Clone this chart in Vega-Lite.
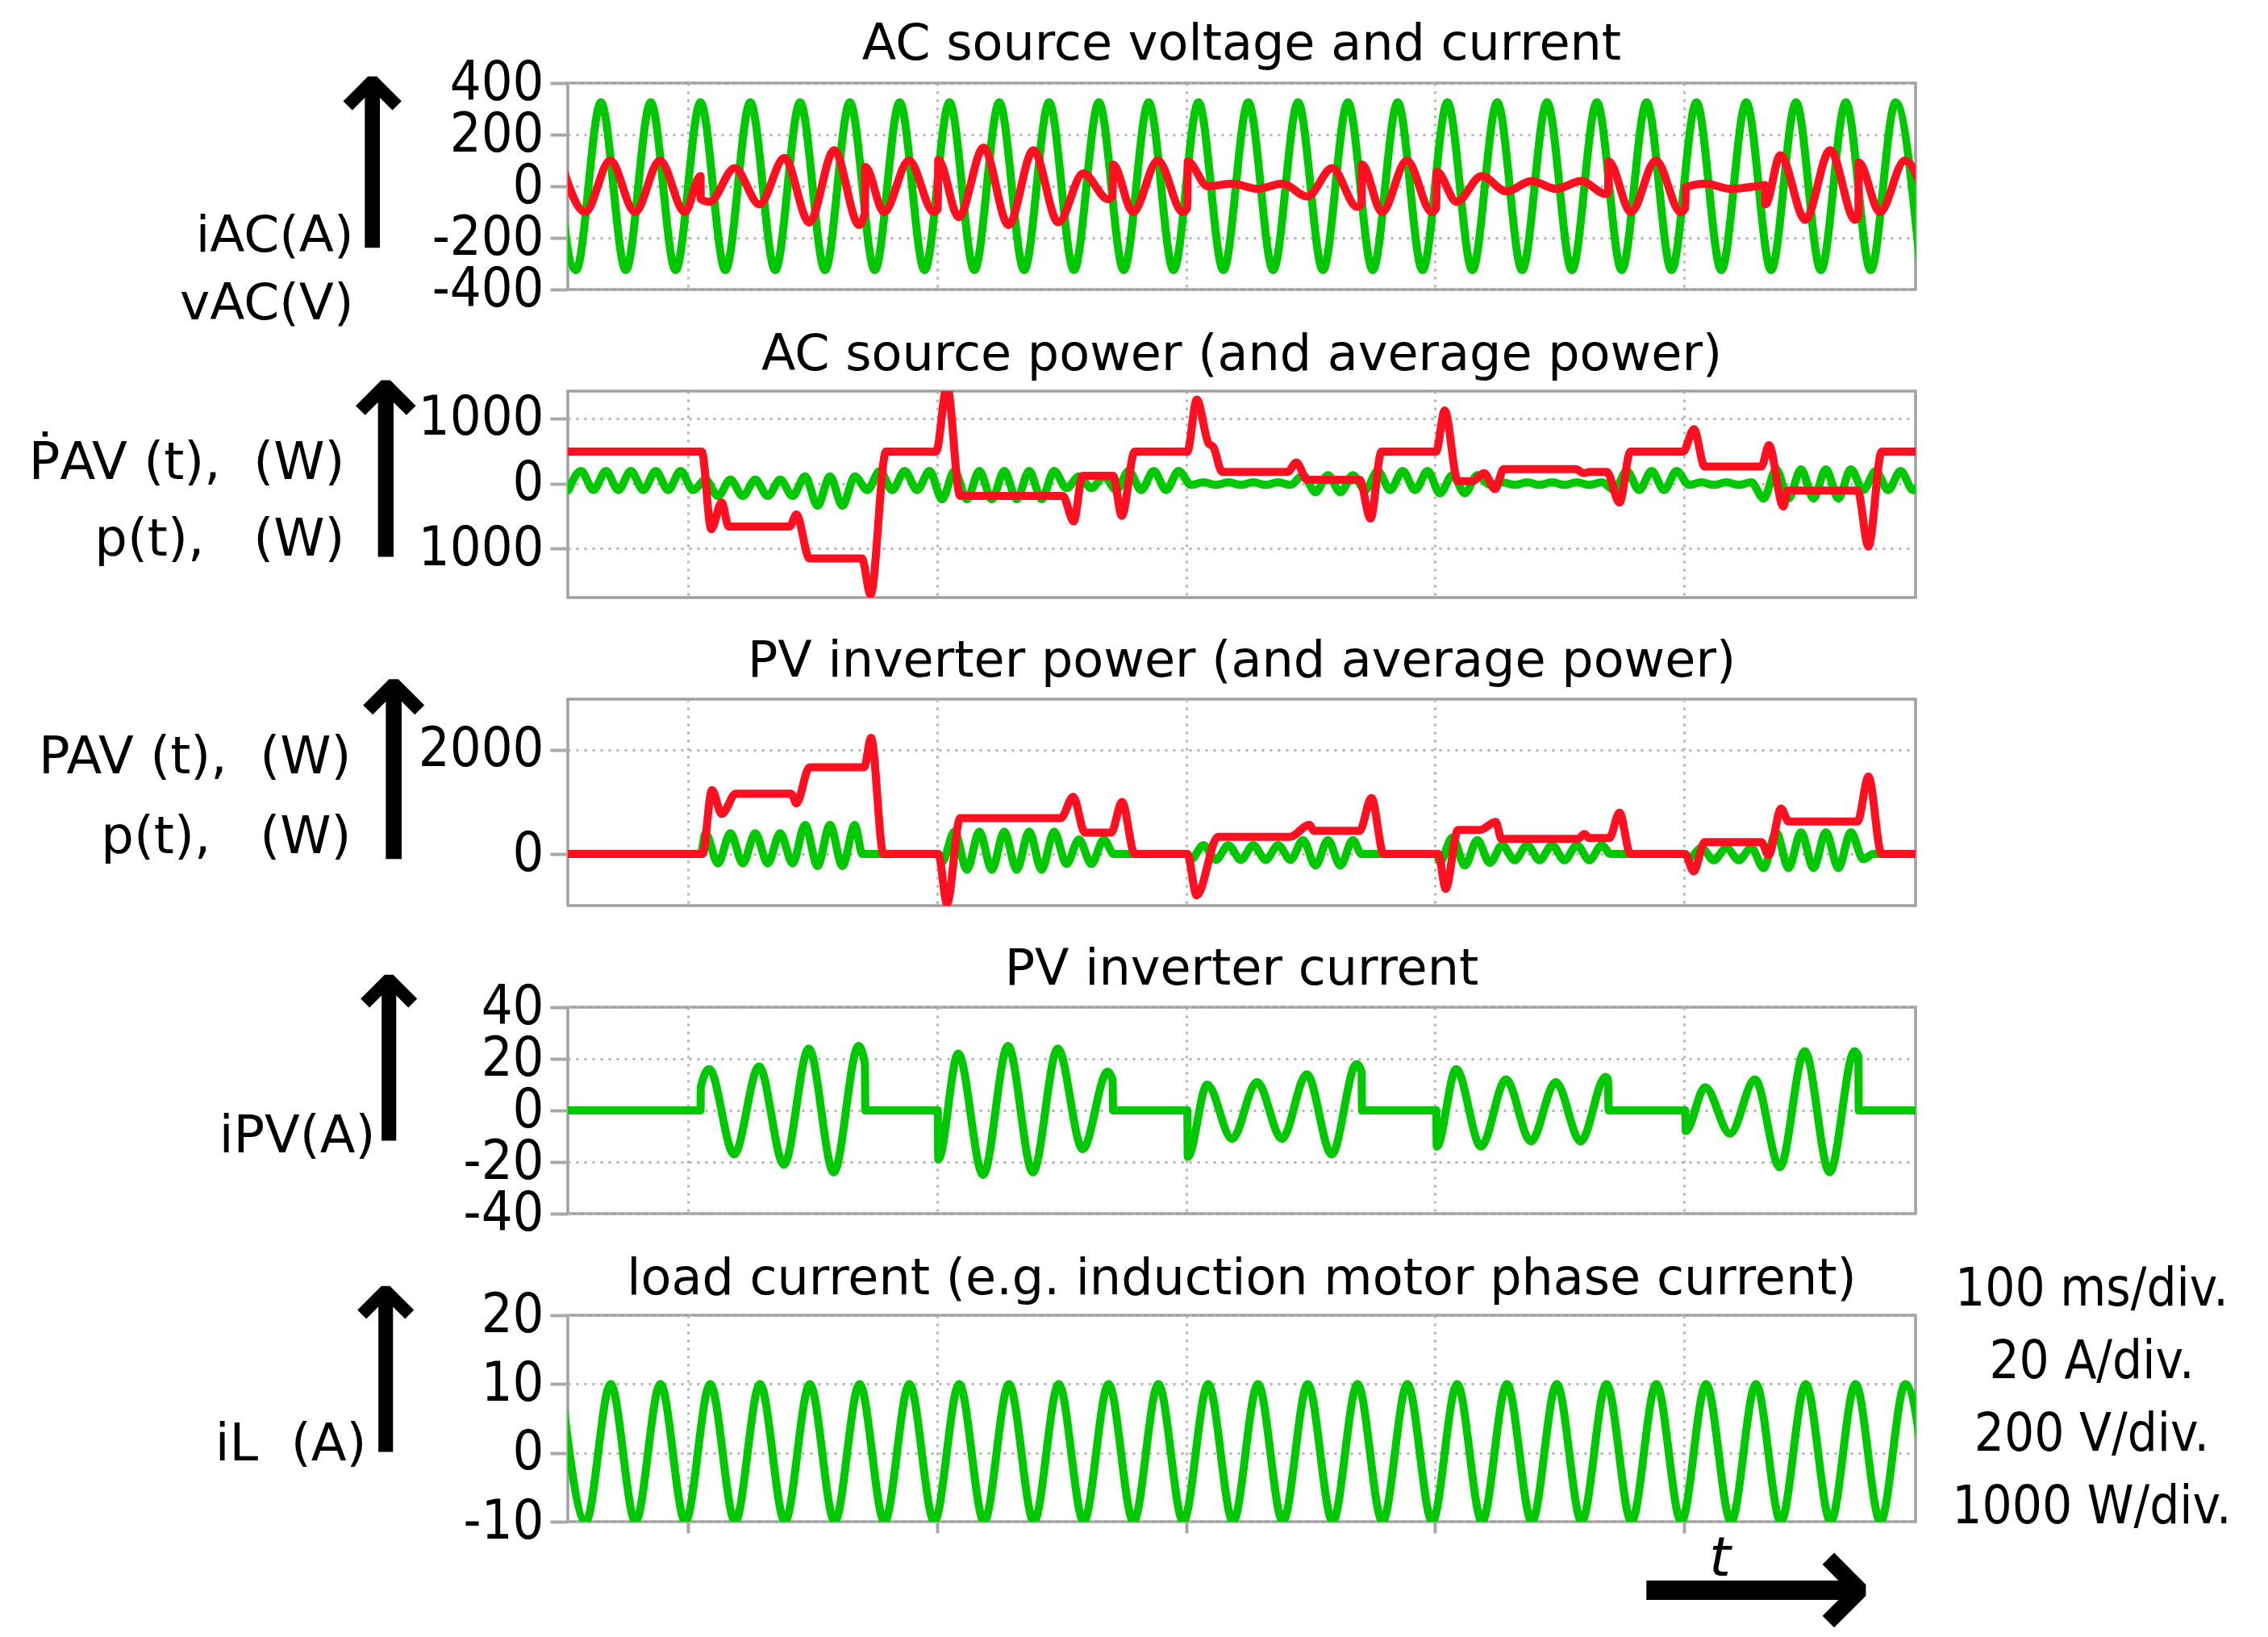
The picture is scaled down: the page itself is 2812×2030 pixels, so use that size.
{
  "$schema": "https://vega.github.io/schema/vega-lite/v6.json",
  "background": "white",
  "padding": {"left": 33, "top": 22, "right": 5, "bottom": 5},
  "bounds": "flush",
  "spacing": 126,
  "config": {
    "locale": {"number": {"decimal": ".", "thousands": "", "grouping": [3], "currency": ["", ""], "minus": "-"}},
    "view": {"stroke": "#a0a0a0", "strokeWidth": 3.5},
    "font": "DejaVu Sans",
    "title": {"fontSize": 62, "fontWeight": "normal", "color": "black", "anchor": "middle", "frame": "group", "font": "DejaVu Sans"},
    "axis": {"gridDash": [3, 7], "gridColor": "#b4b4b4", "gridWidth": 3, "domain": false, "tickColor": "#a8a8a8", "tickWidth": 4, "labelColor": "black", "titleColor": "black", "labelOverlap": false, "labelFlush": false, "titleFontWeight": "normal", "labelFont": "DejaVu Sans Condensed, DejaVu Sans", "titleFont": "DejaVu Sans"},
    "line": {"strokeWidth": 10, "interpolate": "monotone", "strokeCap": "round", "strokeJoin": "round"}
  },
  "datasets": {
    "vac": [{"t":-55,"y":325},{"t":-45,"y":-325},{"t":-35,"y":325},{"t":-25,"y":-325},{"t":-15,"y":325},{"t":-5,"y":-325},{"t":5,"y":325},{"t":15,"y":-325},{"t":25,"y":325},{"t":35,"y":-325},{"t":45,"y":325},{"t":55,"y":-325},{"t":65,"y":325},{"t":75,"y":-325},{"t":85,"y":325},{"t":95,"y":-325},{"t":105,"y":325},{"t":115,"y":-325},{"t":125,"y":325},{"t":135,"y":-325},{"t":145,"y":325},{"t":155,"y":-325},{"t":165,"y":325},{"t":175,"y":-325},{"t":185,"y":325},{"t":195,"y":-325},{"t":205,"y":325},{"t":215,"y":-325},{"t":225,"y":325},{"t":235,"y":-325},{"t":245,"y":325},{"t":255,"y":-325},{"t":265,"y":325},{"t":275,"y":-325},{"t":285,"y":325},{"t":295,"y":-325},{"t":305,"y":325},{"t":315,"y":-325},{"t":325,"y":325},{"t":335,"y":-325},{"t":345,"y":325},{"t":355,"y":-325},{"t":365,"y":325},{"t":375,"y":-325},{"t":385,"y":325},{"t":395,"y":-325},{"t":405,"y":325},{"t":415,"y":-325},{"t":425,"y":325},{"t":435,"y":-325},{"t":445,"y":325},{"t":455,"y":-325},{"t":465,"y":325},{"t":475,"y":-325},{"t":485,"y":325},{"t":495,"y":-325}],
    "iac": [{"t":-51.3,"y":100},{"t":-41.3,"y":-100},{"t":-31.3,"y":100},{"t":-21.3,"y":-100},{"t":-11.3,"y":100},{"t":-1.3,"y":-100},{"t":5.0,"y":40},{"t":5.1,"y":-50},{"t":8.7,"y":-60},{"t":18.7,"y":70},{"t":28.7,"y":-70},{"t":38.7,"y":110},{"t":48.7,"y":-140},{"t":58.7,"y":140},{"t":68.7,"y":-150},{"t":71.0,"y":-105},{"t":71.2,"y":75},{"t":78.7,"y":-100},{"t":88.7,"y":100},{"t":98.7,"y":-100},{"t":100.3,"y":-88},{"t":100.5,"y":102},{"t":108.7,"y":-120},{"t":118.7,"y":150},{"t":128.7,"y":-150},{"t":138.7,"y":140},{"t":148.7,"y":-140},{"t":158.7,"y":50},{"t":168.7,"y":-50},{"t":170.5,"y":-36},{"t":170.7,"y":84},{"t":178.7,"y":-100},{"t":188.7,"y":100},{"t":198.7,"y":-100},{"t":200.5,"y":-84},{"t":200.7,"y":96},{"t":208.7,"y":0},{"t":218.7,"y":10},{"t":228.7,"y":-10},{"t":238.7,"y":10},{"t":248.7,"y":-40},{"t":258.7,"y":70},{"t":268.7,"y":-80},{"t":270.5,"y":-66},{"t":270.7,"y":84},{"t":278.7,"y":-100},{"t":288.7,"y":100},{"t":298.7,"y":-100},{"t":300.5,"y":-84},{"t":300.7,"y":56},{"t":308.7,"y":-60},{"t":318.7,"y":40},{"t":328.7,"y":-20},{"t":338.7,"y":20},{"t":348.7,"y":-10},{"t":358.7,"y":20},{"t":368.7,"y":-30},{"t":369.5,"y":-23},{"t":369.7,"y":97},{"t":378.7,"y":-100},{"t":388.7,"y":100},{"t":398.7,"y":-100},{"t":400.5,"y":-84},{"t":400.7,"y":-4},{"t":408.7,"y":10},{"t":418.7,"y":-10},{"t":428.7,"y":0},{"t":432.5,"y":5},{"t":432.7,"y":-70},{"t":438.7,"y":120},{"t":448.7,"y":-130},{"t":458.7,"y":140},{"t":468.7,"y":-130},{"t":470.0,"y":-118},{"t":470.2,"y":92},{"t":478.7,"y":-100},{"t":488.7,"y":100},{"t":498.7,"y":-100}],
    "pac": [{"t":-48,"y":-100},{"t":-43,"y":195},{"t":-38,"y":-100},{"t":-33,"y":195},{"t":-28,"y":-100},{"t":-23,"y":195},{"t":-18,"y":-100},{"t":-13,"y":195},{"t":-8,"y":-100},{"t":-3,"y":195},{"t":2,"y":-100},{"t":7,"y":60},{"t":12,"y":-190},{"t":17,"y":60},{"t":22,"y":-190},{"t":27,"y":60},{"t":32,"y":-190},{"t":37,"y":60},{"t":42,"y":-190},{"t":47,"y":110},{"t":52,"y":-340},{"t":57,"y":110},{"t":62,"y":-340},{"t":67,"y":110},{"t":72,"y":-100},{"t":77,"y":195},{"t":82,"y":-100},{"t":87,"y":195},{"t":92,"y":-100},{"t":97,"y":195},{"t":102,"y":-242},{"t":107,"y":193},{"t":112,"y":-242},{"t":117,"y":193},{"t":122,"y":-242},{"t":127,"y":193},{"t":132,"y":-242},{"t":137,"y":193},{"t":142,"y":-242},{"t":147,"y":193},{"t":152,"y":-70},{"t":157,"y":110},{"t":162,"y":-70},{"t":167,"y":110},{"t":172,"y":-100},{"t":177,"y":195},{"t":182,"y":-100},{"t":187,"y":195},{"t":192,"y":-100},{"t":197,"y":195},{"t":202,"y":-20},{"t":207,"y":20},{"t":212,"y":-20},{"t":217,"y":20},{"t":222,"y":-20},{"t":227,"y":20},{"t":232,"y":-20},{"t":237,"y":20},{"t":242,"y":-20},{"t":247,"y":130},{"t":252,"y":-130},{"t":257,"y":130},{"t":262,"y":-130},{"t":267,"y":130},{"t":272,"y":-100},{"t":277,"y":195},{"t":282,"y":-100},{"t":287,"y":195},{"t":292,"y":-100},{"t":297,"y":195},{"t":302,"y":-150},{"t":307,"y":130},{"t":312,"y":-150},{"t":317,"y":130},{"t":322,"y":-20},{"t":327,"y":20},{"t":332,"y":-20},{"t":337,"y":20},{"t":342,"y":-20},{"t":347,"y":20},{"t":352,"y":-20},{"t":357,"y":20},{"t":362,"y":-20},{"t":367,"y":20},{"t":372,"y":-100},{"t":377,"y":195},{"t":382,"y":-100},{"t":387,"y":195},{"t":392,"y":-100},{"t":397,"y":195},{"t":402,"y":-20},{"t":407,"y":20},{"t":412,"y":-20},{"t":417,"y":20},{"t":422,"y":-20},{"t":427,"y":20},{"t":432,"y":-230},{"t":437,"y":220},{"t":442,"y":-230},{"t":447,"y":220},{"t":452,"y":-230},{"t":457,"y":220},{"t":462,"y":-230},{"t":467,"y":220},{"t":472,"y":-100},{"t":477,"y":195},{"t":482,"y":-100},{"t":487,"y":195},{"t":492,"y":-100},{"t":497,"y":195}],
    "pavac": [{"t":-48.3,"y":490},{"t":5.5,"y":490},{"t":9.3,"y":-700},{"t":13.5,"y":-290},{"t":16.3,"y":-660},{"t":40.8,"y":-660},{"t":43.5,"y":-475},{"t":48.8,"y":-1150},{"t":69.8,"y":-1150},{"t":73.3,"y":-1705},{"t":79.5,"y":490},{"t":99.6,"y":490},{"t":104,"y":1500},{"t":109.3,"y":-190},{"t":150.5,"y":-190},{"t":154.9,"y":-580},{"t":158.4,"y":120},{"t":170.7,"y":120},{"t":174.2,"y":-495},{"t":179.4,"y":490},{"t":200.5,"y":490},{"t":204.3,"y":1290},{"t":209,"y":620},{"t":211,"y":560},{"t":214.5,"y":180},{"t":240.8,"y":180},{"t":244.3,"y":324},{"t":248.7,"y":57},{"t":269.7,"y":57},{"t":274.1,"y":-537},{"t":278.5,"y":490},{"t":300.4,"y":490},{"t":303.9,"y":1123},{"t":309.2,"y":37},{"t":315,"y":37},{"t":319.7,"y":160},{"t":324.1,"y":-86},{"t":327.6,"y":221},{"t":356.4,"y":221},{"t":360,"y":160},{"t":362,"y":180},{"t":369,"y":180},{"t":374.1,"y":-291},{"t":378.5,"y":490},{"t":399.6,"y":490},{"t":404,"y":836},{"t":408.3,"y":262},{"t":431.1,"y":262},{"t":434.1,"y":590},{"t":439.9,"y":-352},{"t":441.6,"y":-107},{"t":469.7,"y":-107},{"t":474.1,"y":-967},{"t":479.4,"y":490},{"t":493,"y":490}],
    "ppv": [{"t":-48.3,"y":0},{"t":5,"y":0},{"t":7,"y":400},{"t":12,"y":-180},{"t":17,"y":400},{"t":22,"y":-180},{"t":27,"y":400},{"t":32,"y":-180},{"t":37,"y":400},{"t":42,"y":-180},{"t":47,"y":560},{"t":52,"y":-230},{"t":57,"y":560},{"t":62,"y":-230},{"t":67,"y":560},{"t":70,"y":0},{"t":100.5,"y":0},{"t":102,"y":-150},{"t":107,"y":430},{"t":112,"y":-300},{"t":117,"y":430},{"t":122,"y":-300},{"t":127,"y":430},{"t":132,"y":-300},{"t":137,"y":430},{"t":142,"y":-300},{"t":147,"y":430},{"t":152,"y":-190},{"t":157,"y":280},{"t":162,"y":-190},{"t":167,"y":280},{"t":171,"y":0},{"t":200.5,"y":0},{"t":202,"y":-100},{"t":207,"y":170},{"t":212,"y":-110},{"t":217,"y":170},{"t":222,"y":-110},{"t":227,"y":170},{"t":232,"y":-110},{"t":237,"y":170},{"t":242,"y":-110},{"t":247,"y":270},{"t":252,"y":-220},{"t":257,"y":270},{"t":262,"y":-220},{"t":267,"y":270},{"t":270.5,"y":0},{"t":300.5,"y":0},{"t":302,"y":-150},{"t":307,"y":320},{"t":312,"y":-220},{"t":317,"y":270},{"t":322,"y":-170},{"t":327,"y":170},{"t":332,"y":-120},{"t":337,"y":170},{"t":342,"y":-120},{"t":347,"y":170},{"t":352,"y":-120},{"t":357,"y":170},{"t":362,"y":-120},{"t":367,"y":170},{"t":370.5,"y":0},{"t":400.5,"y":0},{"t":402,"y":-80},{"t":407,"y":120},{"t":412,"y":-120},{"t":417,"y":120},{"t":422,"y":-120},{"t":427,"y":120},{"t":432,"y":-270},{"t":437,"y":420},{"t":442,"y":-270},{"t":447,"y":420},{"t":452,"y":-270},{"t":457,"y":420},{"t":462,"y":-270},{"t":467,"y":420},{"t":472,"y":-100},{"t":476,"y":0},{"t":493,"y":0}],
    "pavpv": [{"t":-48.3,"y":0},{"t":5.8,"y":0},{"t":9.6,"y":1230},{"t":13.5,"y":770},{"t":19.2,"y":1160},{"t":41.4,"y":1160},{"t":43.5,"y":975},{"t":48.8,"y":1667},{"t":70.7,"y":1667},{"t":73.5,"y":2230},{"t":78.5,"y":0},{"t":100.5,"y":0},{"t":104,"y":-950},{"t":109.3,"y":692},{"t":149.7,"y":692},{"t":154.7,"y":1100},{"t":159.4,"y":410},{"t":169.9,"y":410},{"t":174.3,"y":1000},{"t":179.4,"y":0},{"t":200.5,"y":0},{"t":204.3,"y":-795},{"t":212.8,"y":330},{"t":241.7,"y":330},{"t":249.6,"y":564},{"t":251.3,"y":446},{"t":269.7,"y":446},{"t":274.5,"y":1077},{"t":279.4,"y":0},{"t":301.3,"y":0},{"t":304.3,"y":-667},{"t":309.2,"y":462},{"t":318,"y":462},{"t":324.4,"y":615},{"t":326.7,"y":292},{"t":357.4,"y":292},{"t":360,"y":385},{"t":362,"y":308},{"t":370,"y":308},{"t":374.1,"y":795},{"t":378.5,"y":0},{"t":400.4,"y":0},{"t":403.9,"y":-333},{"t":408.3,"y":231},{"t":431,"y":231},{"t":434,"y":-20},{"t":439,"y":872},{"t":442,"y":626},{"t":469.7,"y":626},{"t":474.1,"y":1487},{"t":479.4,"y":0},{"t":493,"y":0}],
    "ipv": [{"t":-48.3,"y":0},{"t":5.0,"y":0},{"t":5.1,"y":9},{"t":8.5,"y":16},{"t":18.5,"y":-17},{"t":28.5,"y":17},{"t":38.5,"y":-21},{"t":48.5,"y":24},{"t":58.5,"y":-24},{"t":68.5,"y":25},{"t":71.0,"y":18},{"t":71.2,"y":0},{"t":100.3,"y":0},{"t":100.5,"y":-19},{"t":108.5,"y":22},{"t":118.5,"y":-25},{"t":128.5,"y":25},{"t":138.5,"y":-24},{"t":148.5,"y":24},{"t":158.5,"y":-15},{"t":168.5,"y":15},{"t":170.5,"y":12},{"t":170.7,"y":0},{"t":200.5,"y":0},{"t":200.7,"y":-18},{"t":208.5,"y":10},{"t":218.5,"y":-11},{"t":228.5,"y":11},{"t":238.5,"y":-11},{"t":248.5,"y":14},{"t":258.5,"y":-17},{"t":268.5,"y":18},{"t":270.5,"y":15},{"t":270.7,"y":0},{"t":300.5,"y":0},{"t":300.7,"y":-14},{"t":308.5,"y":16},{"t":318.5,"y":-14},{"t":328.5,"y":12},{"t":338.5,"y":-12},{"t":348.5,"y":11},{"t":358.5,"y":-12},{"t":368.5,"y":13},{"t":369.5,"y":12},{"t":369.7,"y":0},{"t":400.5,"y":0},{"t":400.7,"y":-8},{"t":408.5,"y":9},{"t":418.5,"y":-9},{"t":428.5,"y":12},{"t":438.5,"y":-22},{"t":448.5,"y":23},{"t":458.5,"y":-24},{"t":468.5,"y":23},{"t":470.0,"y":21},{"t":470.2,"y":0},{"t":493,"y":0}],
    "il": [{"t":-51.1,"y":10},{"t":-41.1,"y":-10},{"t":-31.1,"y":10},{"t":-21.1,"y":-10},{"t":-11.1,"y":10},{"t":-1.1,"y":-10},{"t":8.9,"y":10},{"t":18.9,"y":-10},{"t":28.9,"y":10},{"t":38.9,"y":-10},{"t":48.9,"y":10},{"t":58.9,"y":-10},{"t":68.9,"y":10},{"t":78.9,"y":-10},{"t":88.9,"y":10},{"t":98.9,"y":-10},{"t":108.9,"y":10},{"t":118.9,"y":-10},{"t":128.9,"y":10},{"t":138.9,"y":-10},{"t":148.9,"y":10},{"t":158.9,"y":-10},{"t":168.9,"y":10},{"t":178.9,"y":-10},{"t":188.9,"y":10},{"t":198.9,"y":-10},{"t":208.9,"y":10},{"t":218.9,"y":-10},{"t":228.9,"y":10},{"t":238.9,"y":-10},{"t":248.9,"y":10},{"t":258.9,"y":-10},{"t":268.9,"y":10},{"t":278.9,"y":-10},{"t":288.9,"y":10},{"t":298.9,"y":-10},{"t":308.9,"y":10},{"t":318.9,"y":-10},{"t":328.9,"y":10},{"t":338.9,"y":-10},{"t":348.9,"y":10},{"t":358.9,"y":-10},{"t":368.9,"y":10},{"t":378.9,"y":-10},{"t":388.9,"y":10},{"t":398.9,"y":-10},{"t":408.9,"y":10},{"t":418.9,"y":-10},{"t":428.9,"y":10},{"t":438.9,"y":-10},{"t":448.9,"y":10},{"t":458.9,"y":-10},{"t":468.9,"y":10},{"t":478.9,"y":-10},{"t":488.9,"y":10},{"t":498.9,"y":-10}]
  },
  "vconcat": [
    {
      "title": {"text": "AC source voltage and current", "offset": -18},
      "width": 1671, "height": 256,
      "resolve": {"axis": {"y": "independent", "x": "independent"}},
      "layer": [
        {
          "data": {"name": "vac"},
          "mark": {"type": "line", "color": "#00c800", "clip": true},
          "encoding": {
            "x": {"field": "t", "type": "quantitative", "scale": {"domain": [-48.3, 493], "nice": false, "zero": false},
                  "axis": {"values": [0, 100, 200, 300, 400], "grid": true, "labels": false, "ticks": false, "title": null}},
            "y": {"field": "y", "type": "quantitative", "scale": {"domain": [-400, 400], "nice": false, "zero": false},
                  "axis": {"orient": "left", "values": [-400, -200, 0, 200, 400], "grid": true, "ticks": true, "tickSize": 22, "labelFontSize": 68, "labelPadding": 8,
                           "title": "⟶", "titleFontSize": 160, "titleFontWeight": "bold", "titleAngle": 270, "titleX": -241, "titleY": 98, "titleAlign": "center", "titleBaseline": "middle"}}
          }
        },
        {
          "data": {"name": "iac"},
          "mark": {"type": "line", "color": "#ff1020", "clip": true},
          "encoding": {
            "x": {"field": "t", "type": "quantitative", "scale": {"domain": [-48.3, 493], "nice": false, "zero": false}, "axis": null},
            "y": {"field": "y", "type": "quantitative", "scale": {"domain": [-400, 400], "nice": false, "zero": false},
                  "axis": {"orient": "left", "grid": false, "labels": false, "ticks": false, "title": ["iAC(A)", "vAC(V)"], "titleFontSize": 63, "titleAngle": 0, "titleAlign": "right", "titleBaseline": "alphabetic", "titleX": -266, "titleY": 208, "titleLineHeight": 84}}
          }
        }
      ]
    },
    {
      "title": {"text": "AC source power (and average power)", "offset": -9},
      "width": 1671, "height": 256,
      "resolve": {"axis": {"y": "independent", "x": "independent"}},
      "layer": [
        {
          "data": {"name": "pac"},
          "mark": {"type": "line", "color": "#00c800", "clip": true},
          "encoding": {
            "x": {"field": "t", "type": "quantitative", "scale": {"domain": [-48.3, 493], "nice": false, "zero": false},
                  "axis": {"values": [0, 100, 200, 300, 400], "grid": true, "labels": false, "ticks": false, "title": null}},
            "y": {"field": "y", "type": "quantitative", "scale": {"domain": [-1750, 1420], "nice": false, "zero": false},
                  "axis": {"orient": "left", "values": [-1000, 0, 1000], "labelExpr": "format(abs(datum.value), 'd')", "grid": true, "ticks": true, "tickSize": 22, "labelFontSize": 68, "labelPadding": 8,
                           "title": "⟶", "titleFontSize": 165, "titleFontWeight": "bold", "titleAngle": 270, "titleX": -225, "titleY": 96, "titleAlign": "center", "titleBaseline": "middle"}}
          }
        },
        {
          "data": {"name": "pavac"},
          "mark": {"type": "line", "color": "#ff1020", "clip": true},
          "encoding": {
            "x": {"field": "t", "type": "quantitative", "scale": {"domain": [-48.3, 493], "nice": false, "zero": false}, "axis": null},
            "y": {"field": "y", "type": "quantitative", "scale": {"domain": [-1750, 1420], "nice": false, "zero": false},
                  "axis": {"orient": "left", "grid": false, "labels": false, "ticks": false, "title": ["ṖAV (t),\u00a0\u00a0(W)", "p(t),\u00a0\u00a0\u00a0(W)"], "titleFontSize": 64, "titleAngle": 0, "titleAlign": "right", "titleBaseline": "alphabetic", "titleX": -277, "titleY": 108, "titleLineHeight": 95}}
          }
        }
      ]
    },
    {
      "title": {"text": "PV inverter power (and average power)", "offset": -18},
      "width": 1671, "height": 256,
      "resolve": {"axis": {"y": "independent", "x": "independent"}},
      "layer": [
        {
          "data": {"name": "ppv"},
          "mark": {"type": "line", "color": "#00c800", "clip": true},
          "encoding": {
            "x": {"field": "t", "type": "quantitative", "scale": {"domain": [-48.3, 493], "nice": false, "zero": false},
                  "axis": {"values": [0, 100, 200, 300, 400], "grid": true, "labels": false, "ticks": false, "title": null}},
            "y": {"field": "y", "type": "quantitative", "scale": {"domain": [-990, 2975], "nice": false, "zero": false},
                  "axis": {"orient": "left", "values": [0, 2000], "grid": true, "ticks": true, "tickSize": 22, "labelFontSize": 68, "labelPadding": 8,
                           "title": "⟶", "titleFontSize": 168, "titleFontWeight": "bold", "titleAngle": 270, "titleX": -214, "titleY": 87, "titleAlign": "center", "titleBaseline": "middle"}}
          }
        },
        {
          "data": {"name": "pavpv"},
          "mark": {"type": "line", "color": "#ff1020", "clip": true},
          "encoding": {
            "x": {"field": "t", "type": "quantitative", "scale": {"domain": [-48.3, 493], "nice": false, "zero": false}, "axis": null},
            "y": {"field": "y", "type": "quantitative", "scale": {"domain": [-990, 2975], "nice": false, "zero": false},
                  "axis": {"orient": "left", "grid": false, "labels": false, "ticks": false, "title": ["PAV (t),\u00a0\u00a0(W)", "p(t),\u00a0\u00a0\u00a0(W)"], "titleFontSize": 64, "titleAngle": 0, "titleAlign": "right", "titleBaseline": "alphabetic", "titleX": -269, "titleY": 91, "titleLineHeight": 99}}
          }
        }
      ]
    },
    {
      "title": {"text": "PV inverter current", "offset": -33},
      "width": 1671, "height": 256,
      "resolve": {"axis": {"y": "independent", "x": "independent"}},
      "layer": [
        {
          "data": {"name": "ipv"},
          "mark": {"type": "line", "color": "#00c800", "clip": true},
          "encoding": {
            "x": {"field": "t", "type": "quantitative", "scale": {"domain": [-48.3, 493], "nice": false, "zero": false},
                  "axis": {"values": [0, 100, 200, 300, 400], "grid": true, "labels": false, "ticks": false, "title": null}},
            "y": {"field": "y", "type": "quantitative", "scale": {"domain": [-40, 40], "nice": false, "zero": false},
                  "axis": {"orient": "left", "values": [-40, -20, 0, 20, 40], "grid": true, "ticks": true, "tickSize": 22, "labelFontSize": 68, "labelPadding": 8,
                           "title": "⟶", "titleFontSize": 155, "titleFontWeight": "bold", "titleAngle": 270, "titleX": -221, "titleY": 63, "titleAlign": "center", "titleBaseline": "middle"}}
          }
        },
        {
          "data": {"name": "ipv"},
          "mark": {"type": "line", "color": "#00c800", "opacity": 0, "clip": true},
          "encoding": {
            "x": {"field": "t", "type": "quantitative", "scale": {"domain": [-48.3, 493], "nice": false, "zero": false}, "axis": null},
            "y": {"field": "y", "type": "quantitative", "scale": {"domain": [-40, 40], "nice": false, "zero": false},
                  "axis": {"orient": "left", "grid": false, "labels": false, "ticks": false, "title": "iPV(A)", "titleFontSize": 64, "titleAngle": 0, "titleAlign": "right", "titleBaseline": "alphabetic", "titleX": -239, "titleY": 179}}
          }
        }
      ]
    },
    {
      "title": {"text": "load current (e.g. induction motor phase current)", "offset": -52},
      "width": 1671, "height": 256,
      "resolve": {"axis": {"y": "independent", "x": "independent"}},
      "layer": [
        {
          "data": {"name": "il"},
          "mark": {"type": "line", "color": "#00c800", "clip": true},
          "encoding": {
            "x": {"field": "t", "type": "quantitative", "scale": {"domain": [-48.3, 493], "nice": false, "zero": false},
                  "axis": {"orient": "bottom", "values": [0, 100, 200, 300, 400], "grid": true, "labels": false, "ticks": true, "tickSize": 14, "title": null}},
            "y": {"field": "y", "type": "quantitative", "scale": {"domain": [-10, 20], "nice": false, "zero": false},
                  "axis": {"orient": "left", "values": [-10, 0, 10, 20], "grid": true, "ticks": true, "tickSize": 22, "labelFontSize": 68, "labelPadding": 8,
                           "title": "⟶", "titleFontSize": 155, "titleFontWeight": "bold", "titleAngle": 270, "titleX": -225, "titleY": 67, "titleAlign": "center", "titleBaseline": "middle"}}
          }
        },
        {
          "data": {"name": "il"},
          "mark": {"type": "line", "color": "#00c800", "opacity": 0, "clip": true},
          "encoding": {
            "x": {"field": "t", "type": "quantitative", "scale": {"domain": [-48.3, 493], "nice": false, "zero": false},
                  "axis": {"orient": "bottom", "grid": false, "labels": false, "ticks": false, "title": "t", "titleFontSize": 68, "titleFontStyle": "italic", "titleX": 1428, "titleY": 66, "titleAlign": "center", "titleBaseline": "alphabetic"}},
            "y": {"field": "y", "type": "quantitative", "scale": {"domain": [-10, 20], "nice": false, "zero": false},
                  "axis": {"orient": "left", "grid": false, "labels": false, "ticks": false, "title": "iL\u00a0\u00a0(A)", "titleFontSize": 64, "titleAngle": 0, "titleAlign": "right", "titleBaseline": "alphabetic", "titleX": -250, "titleY": 179}}
          }
        },
        {
          "data": {"name": "il"},
          "mark": {"type": "line", "color": "#00c800", "opacity": 0, "clip": true},
          "encoding": {
            "x": {"field": "t", "type": "quantitative", "scale": {"domain": [-48.3, 493], "nice": false, "zero": false},
                  "axis": {"orient": "bottom", "grid": false, "labels": false, "ticks": false, "title": "⟶", "titleFontSize": 205, "titleFontWeight": "bold", "titleX": 1472, "titleY": 86, "titleAlign": "center", "titleBaseline": "middle"}},
            "y": {"field": "y", "type": "quantitative", "scale": {"domain": [-10, 20], "nice": false, "zero": false},
                  "axis": {"orient": "right", "grid": false, "labels": false, "ticks": false, "title": ["100 ms/div.", "20 A/div.", "200 V/div.", "1000 W/div."], "titleFont": "DejaVu Sans Condensed, DejaVu Sans", "titleFontSize": 65, "titleAngle": 0, "titleAlign": "center", "titleBaseline": "alphabetic", "titleX": 218, "titleY": -13, "titleLineHeight": 90}}
          }
        }
      ]
    }
  ]
}
